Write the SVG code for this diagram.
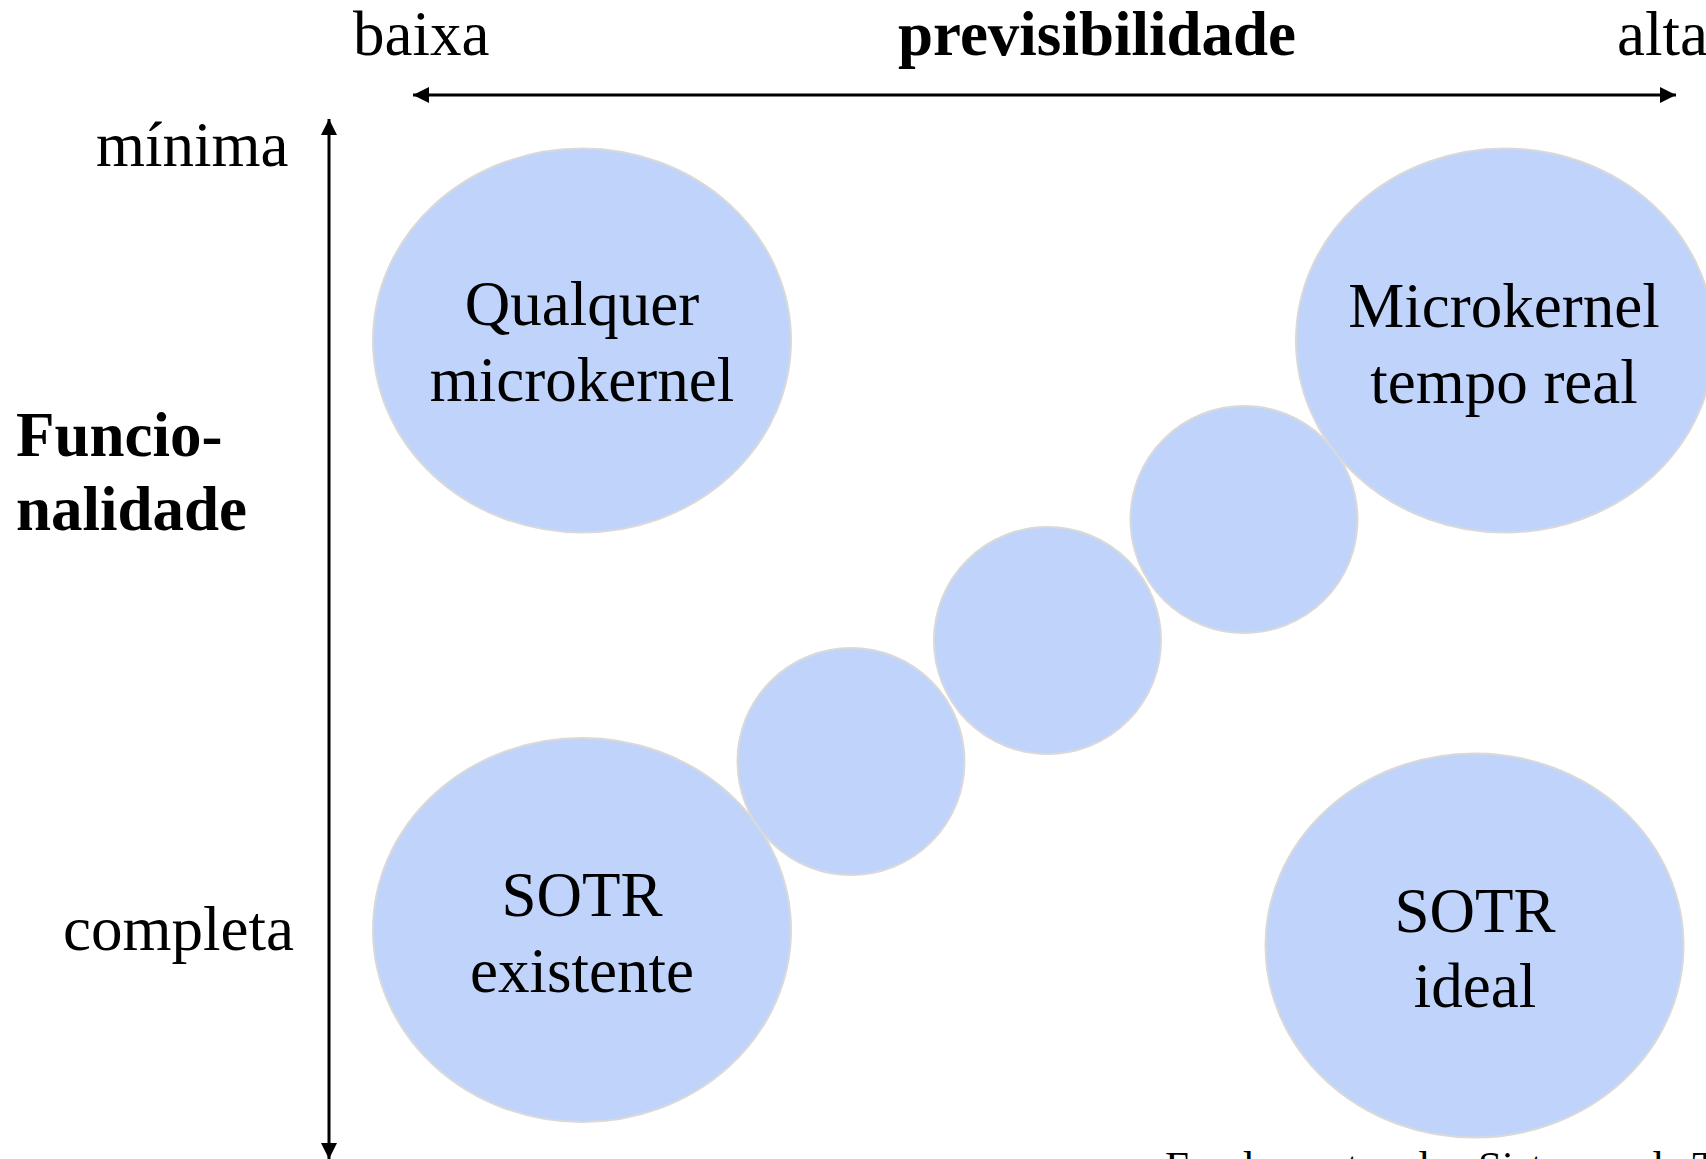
<svg xmlns="http://www.w3.org/2000/svg" width="1706" height="1159" viewBox="0 0 1706 1159">
<style>
  .bub { fill: #C0D3FB; stroke: #D9D9D9; stroke-width: 2; }
  .t { font-family: "Liberation Serif", "Times New Roman", serif; font-size: 63px; fill: #000; }
  .c { text-anchor: middle; }
  .b { font-weight: bold; }
  .ax { stroke: #000; stroke-width: 3; fill: none; }
  .foot { font-family: "Liberation Serif", "Times New Roman", serif; font-size: 43px; fill: #000; }
</style>
<defs>
  <marker id="ah" viewBox="0 0 16 16" refX="16" refY="8" markerWidth="16" markerHeight="16" markerUnits="userSpaceOnUse" orient="auto-start-reverse">
    <path d="M0,0 L16,8 L0,16 Z" fill="#000"/>
  </marker>
</defs>
<rect width="1706" height="1159" fill="#fff"/>

<g id="axes">
  <line class="ax" x1="413" y1="95" x2="1676" y2="95" marker-start="url(#ah)" marker-end="url(#ah)"/>
  <line class="ax" x1="329" y1="119" x2="329" y2="1159" marker-start="url(#ah)" marker-end="url(#ah)"/>
</g>

<g id="labels">
  <text class="t" x="353" y="55">baixa</text>
  <text class="t b c" x="1097" y="55">previsibilidade</text>
  <text class="t" x="1617" y="55">alta</text>
  <text class="t" x="96" y="166">mínima</text>
  <text class="t" x="63" y="950">completa</text>
  <text class="t b" x="16" y="456">Funcio-</text>
  <text class="t b" x="16" y="530">nalidade</text>
  <text class="foot" x="1165" y="1181">Fundamentos dos Sistemas de T</text>
</g>

<g id="step1"><circle class="bub" cx="851" cy="761.5" r="113.5"/></g>
<g id="step2"><circle class="bub" cx="1047.5" cy="640.5" r="113.5"/></g>
<g id="step3"><circle class="bub" cx="1244" cy="519.5" r="113.5"/></g>

<g id="qualquer">
  <ellipse class="bub" cx="582" cy="340.5" rx="209" ry="192"/>
  <text class="t c" x="582" y="325">Qualquer</text>
  <text class="t c" x="582" y="401">microkernel</text>
</g>
<g id="microkernel-tr">
  <ellipse class="bub" cx="1505" cy="340.5" rx="209" ry="192"/>
  <text class="t c" x="1504" y="327">Microkernel</text>
  <text class="t c" x="1504" y="403">tempo real</text>
</g>
<g id="sotr-existente">
  <ellipse class="bub" cx="582" cy="930" rx="209" ry="192"/>
  <text class="t c" x="582" y="916">SOTR</text>
  <text class="t c" x="582" y="992">existente</text>
</g>
<g id="sotr-ideal">
  <ellipse class="bub" cx="1474.5" cy="945.5" rx="209" ry="192"/>
  <text class="t c" x="1475" y="932">SOTR</text>
  <text class="t c" x="1475" y="1007">ideal</text>
</g>
</svg>
